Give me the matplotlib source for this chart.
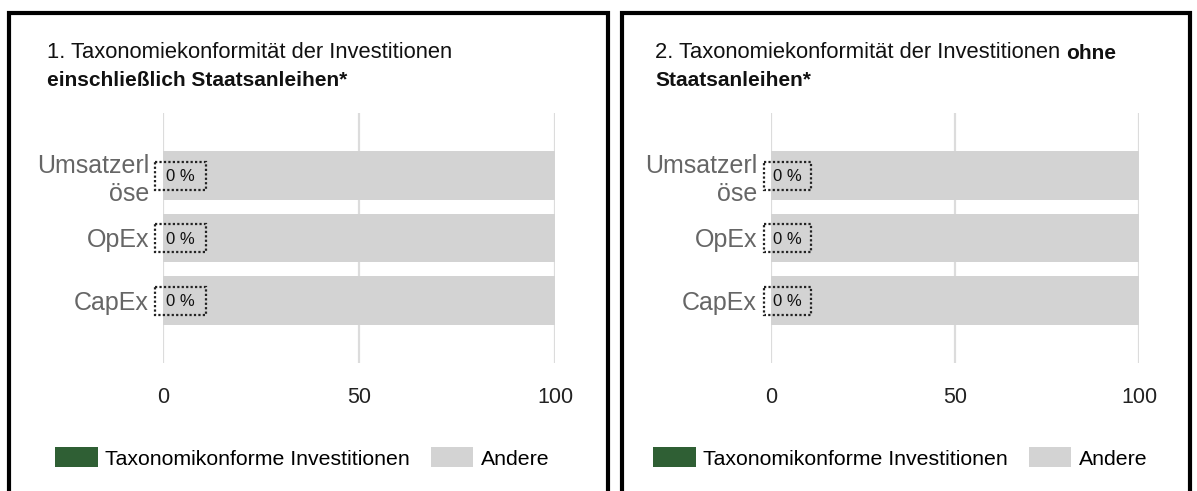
import matplotlib
matplotlib.use('Agg')
import matplotlib.pyplot as plt
from matplotlib.patches import Rectangle
from matplotlib.lines import Line2D

# Daten
categories = ['Umsatzerl\nöse', 'OpEx', 'CapEx']
aligned_incl = [0, 0, 0]      # Taxonomikonforme Investitionen, inkl. Staatsanleihen
other_incl = [100, 100, 100]  # Andere
aligned_excl = [0, 0, 0]      # ohne Staatsanleihen
other_excl = [100, 100, 100]
x_ticks = [0, 50, 100]
series_names = ['Taxonomikonforme Investitionen', 'Andere']

title_regular = ['1. Taxonomiekonformität der Investitionen',
                 '2. Taxonomiekonformität der Investitionen']
title_bold_tail = ['', 'ohne']
title_bold_line = ['einschließlich Staatsanleihen*', 'Staatsanleihen*']

GREEN = '#2f5f34'
GRAY = '#d3d3d3'
W, H = 1197, 491

plt.rcParams['font.family'] = ['Liberation Sans', 'DejaVu Sans']

fig = plt.figure(figsize=(W / 100, H / 100), dpi=100)


def fx(px):
    return px / W


def fy(px):
    # pixel von oben -> figure fraction
    return 1 - px / H


def draw_panel(ax, aligned, other):
    y = list(range(len(categories)))
    ax.barh(y, aligned, height=0.78, color=GREEN, label=series_names[0])
    ax.barh(y, other, left=aligned, height=0.78, color=GRAY,
            label=series_names[1])

    ax.set_xlim(0, 100)
    ax.set_ylim(3, -1)
    ax.set_xticks(x_ticks)
    ax.set_yticks(y)
    ax.set_yticklabels(categories)
    ax.tick_params(axis='x', length=0, pad=17, labelsize=15.5,
                   labelcolor='#222222')
    ax.tick_params(axis='y', length=0, pad=10, labelsize=18,
                   labelcolor='#666666')
    ax.grid(axis='x', color='#dcdcdc', linewidth=1.6)
    ax.set_axisbelow(True)
    for s in ax.spines.values():
        s.set_visible(False)

    # Wertelabels "0 %" mit gepunktetem Rahmen
    for i, v in enumerate(aligned):
        ax.add_patch(Rectangle((v - 2, i - 0.224), 13, 0.448, fill=False,
                               edgecolor='#222222', linestyle=(0, (1, 1)),
                               linewidth=1.6, clip_on=False, zorder=5))
        ax.text(v + 4.5, i + 0.02, f'{v:.0f} %', ha='center', va='center',
                fontsize=12, color='#111111', zorder=6)


def draw_title(ax, x_px, idx):
    t1 = fig.text(fx(x_px), fy(58), title_regular[idx], fontsize=15.8,
                  va='baseline', ha='left', color='#111111')
    if title_bold_tail[idx]:
        ax.annotate(title_bold_tail[idx], xy=(1, 0), xycoords=t1,
                    xytext=(4.5, 0), textcoords='offset points',
                    ha='left', va='bottom', fontsize=15, fontweight='bold',
                    color='#111111', annotation_clip=False)
    fig.text(fx(x_px), fy(86), title_bold_line[idx], fontsize=15,
             fontweight='bold', va='baseline', ha='left', color='#111111')


def draw_border(x0, x1):
    line = Line2D([fx(x0), fx(x0), fx(x1), fx(x1)],
                  [-0.05, fy(13), fy(13), -0.05],
                  transform=fig.transFigure, color='black', linewidth=3,
                  solid_joinstyle='miter')
    fig.add_artist(line)


ax_bottom = fy(363)
ax_height = 250 / H

ax1 = fig.add_axes([fx(163), ax_bottom, fx(392), ax_height])
ax2 = fig.add_axes([fx(771), ax_bottom, fx(368), ax_height])

draw_panel(ax1, aligned_incl, other_incl)
draw_panel(ax2, aligned_excl, other_excl)

draw_title(ax1, 47, 0)
draw_title(ax2, 655, 1)

for ax, lx in [(ax1, 55), (ax2, 653)]:
    ax.legend(loc='center left', bbox_to_anchor=(fx(lx), fy(458)),
              bbox_transform=fig.transFigure, ncol=2, frameon=False,
              fontsize=15.3, handlelength=2.0, handleheight=1.04,
              handletextpad=0.35, columnspacing=1.0, borderpad=0,
              borderaxespad=0)

draw_border(9, 608)
draw_border(622, 1190)

fig.savefig('out.png', dpi=100)
